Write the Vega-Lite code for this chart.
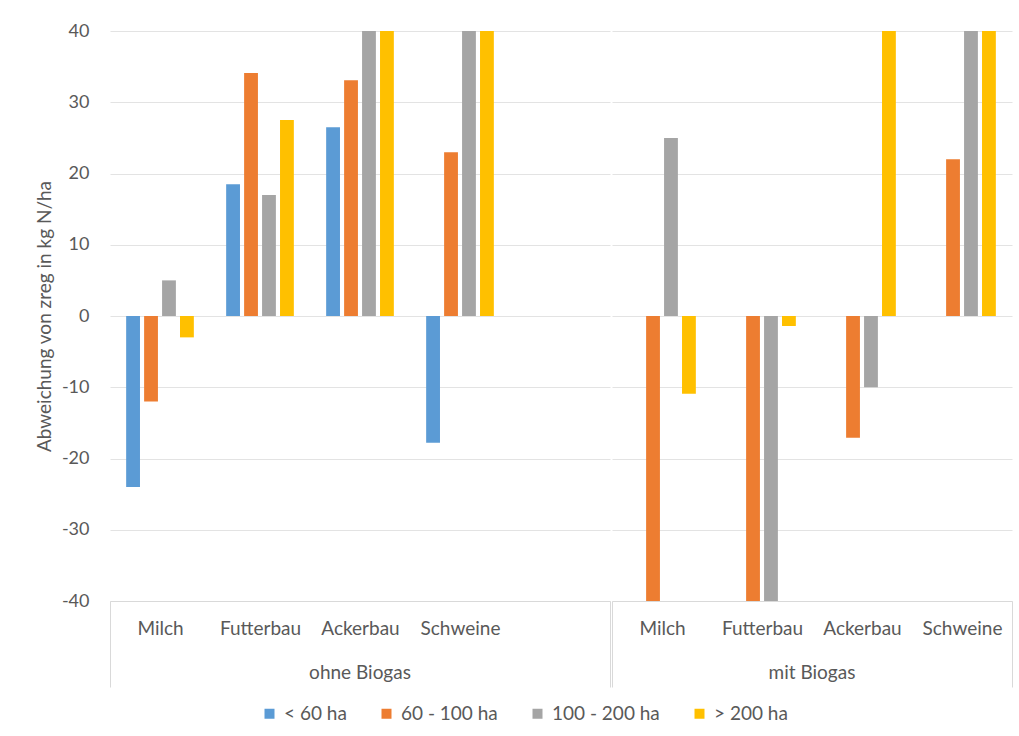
{
  "$schema": "https://vega.github.io/schema/vega-lite/v6.json",
  "padding": {"left": 35, "top": 22, "right": 8, "bottom": 5},
  "background": "white",
  "data": {
    "values": [
      {"gruppe": "ohne Biogas", "betrieb": "Milch", "groesse": "< 60 ha", "wert": -24},
      {"gruppe": "ohne Biogas", "betrieb": "Milch", "groesse": "60 - 100 ha", "wert": -12},
      {"gruppe": "ohne Biogas", "betrieb": "Milch", "groesse": "100 - 200 ha", "wert": 5},
      {"gruppe": "ohne Biogas", "betrieb": "Milch", "groesse": "> 200 ha", "wert": -3},
      {"gruppe": "ohne Biogas", "betrieb": "Futterbau", "groesse": "< 60 ha", "wert": 18.5},
      {"gruppe": "ohne Biogas", "betrieb": "Futterbau", "groesse": "60 - 100 ha", "wert": 34.1},
      {"gruppe": "ohne Biogas", "betrieb": "Futterbau", "groesse": "100 - 200 ha", "wert": 17},
      {"gruppe": "ohne Biogas", "betrieb": "Futterbau", "groesse": "> 200 ha", "wert": 27.5},
      {"gruppe": "ohne Biogas", "betrieb": "Ackerbau", "groesse": "< 60 ha", "wert": 26.5},
      {"gruppe": "ohne Biogas", "betrieb": "Ackerbau", "groesse": "60 - 100 ha", "wert": 33.1},
      {"gruppe": "ohne Biogas", "betrieb": "Ackerbau", "groesse": "100 - 200 ha", "wert": 48},
      {"gruppe": "ohne Biogas", "betrieb": "Ackerbau", "groesse": "> 200 ha", "wert": 48},
      {"gruppe": "ohne Biogas", "betrieb": "Schweine", "groesse": "< 60 ha", "wert": -17.8},
      {"gruppe": "ohne Biogas", "betrieb": "Schweine", "groesse": "60 - 100 ha", "wert": 23},
      {"gruppe": "ohne Biogas", "betrieb": "Schweine", "groesse": "100 - 200 ha", "wert": 48},
      {"gruppe": "ohne Biogas", "betrieb": "Schweine", "groesse": "> 200 ha", "wert": 48},
      {"gruppe": "ohne Biogas", "betrieb": " ", "groesse": "< 60 ha", "wert": null},
      {"gruppe": "mit Biogas", "betrieb": "Milch", "groesse": "< 60 ha", "wert": null},
      {"gruppe": "mit Biogas", "betrieb": "Milch", "groesse": "60 - 100 ha", "wert": -48},
      {"gruppe": "mit Biogas", "betrieb": "Milch", "groesse": "100 - 200 ha", "wert": 25},
      {"gruppe": "mit Biogas", "betrieb": "Milch", "groesse": "> 200 ha", "wert": -10.9},
      {"gruppe": "mit Biogas", "betrieb": "Futterbau", "groesse": "< 60 ha", "wert": null},
      {"gruppe": "mit Biogas", "betrieb": "Futterbau", "groesse": "60 - 100 ha", "wert": -48},
      {"gruppe": "mit Biogas", "betrieb": "Futterbau", "groesse": "100 - 200 ha", "wert": -48},
      {"gruppe": "mit Biogas", "betrieb": "Futterbau", "groesse": "> 200 ha", "wert": -1.4},
      {"gruppe": "mit Biogas", "betrieb": "Ackerbau", "groesse": "< 60 ha", "wert": null},
      {"gruppe": "mit Biogas", "betrieb": "Ackerbau", "groesse": "60 - 100 ha", "wert": -17.1},
      {"gruppe": "mit Biogas", "betrieb": "Ackerbau", "groesse": "100 - 200 ha", "wert": -10},
      {"gruppe": "mit Biogas", "betrieb": "Ackerbau", "groesse": "> 200 ha", "wert": 48},
      {"gruppe": "mit Biogas", "betrieb": "Schweine", "groesse": "< 60 ha", "wert": null},
      {"gruppe": "mit Biogas", "betrieb": "Schweine", "groesse": "60 - 100 ha", "wert": 22},
      {"gruppe": "mit Biogas", "betrieb": "Schweine", "groesse": "100 - 200 ha", "wert": 48},
      {"gruppe": "mit Biogas", "betrieb": "Schweine", "groesse": "> 200 ha", "wert": 48}
    ]
  },
  "facet": {
    "column": {
      "field": "gruppe",
      "type": "nominal",
      "sort": ["ohne Biogas", "mit Biogas"],
      "header": {
        "title": null,
        "labelOrient": "bottom",
        "labelFont": "Lato",
        "labelFontSize": 19,
        "labelColor": "#595959",
        "labelPadding": -24
      }
    }
  },
  "spacing": 0,
  "resolve": {"scale": {"x": "independent", "xOffset": "independent"}},
  "spec": {
    "width": {"step": 100, "for": "position"},
    "height": 570,
    "mark": {"type": "bar", "clip": true, "invalid": "break-paths-show-domains"},
    "encoding": {
      "x": {
        "field": "betrieb",
        "type": "nominal",
        "sort": ["Milch", "Futterbau", "Ackerbau", "Schweine", " "],
        "scale": {"paddingInner": 0, "paddingOuter": 0},
        "axis": {
          "title": null,
          "labelAngle": 0,
          "tickBand": "extent",
          "tickSize": 86,
          "tickColor": {"condition": {"test": "datum.extra || datum.index == 1", "value": "#D9D9D9"}, "value": "transparent"},
          "domainColor": "#D9D9D9",
          "labelPadding": -68,
          "labelFont": "Lato",
          "labelFontSize": 19,
          "labelColor": "#595959"
        }
      },
      "xOffset": {
        "field": "groesse",
        "type": "nominal",
        "scale": {"domain": ["< 60 ha", "60 - 100 ha", "100 - 200 ha", "> 200 ha"], "paddingInner": 0.23, "paddingOuter": 0.9}
      },
      "y": {
        "field": "wert",
        "type": "quantitative",
        "scale": {"domain": [-40, 40], "nice": false},
        "axis": {
          "title": "Abweichung von zreg in kg N/ha",
          "values": [-40, -30, -20, -10, 0, 10, 20, 30, 40],
          "labelExpr": "'' + datum.value",
          "domain": false,
          "ticks": false,
          "tickSize": 0,
          "labelPadding": 20,
          "gridColor": "#E3E3E3",
          "labelFont": "Lato",
          "labelFontSize": 18,
          "labelColor": "#595959",
          "titleFont": "Lato",
          "titleFontSize": 19,
          "titleColor": "#595959",
          "titleFontWeight": "normal",
          "titlePadding": 7
        }
      },
      "color": {
        "field": "groesse",
        "type": "nominal",
        "scale": {"domain": ["< 60 ha", "60 - 100 ha", "100 - 200 ha", "> 200 ha"], "range": ["#5B9BD5", "#ED7D31", "#A5A5A5", "#FFC000"]},
        "legend": {
          "title": null,
          "orient": "bottom",
          "direction": "horizontal",
          "symbolType": "square",
          "symbolSize": 100,
          "symbolStrokeWidth": 0,
          "labelFont": "Lato",
          "labelFontSize": 19,
          "labelColor": "#595959",
          "columnPadding": 30,
          "labelOffset": 5,
          "offset": 16
        }
      }
    }
  },
  "config": {
    "view": {"stroke": null},
    "font": "Lato",
    "legend": {"layout": {"bottom": {"anchor": "middle"}}}
  }
}
